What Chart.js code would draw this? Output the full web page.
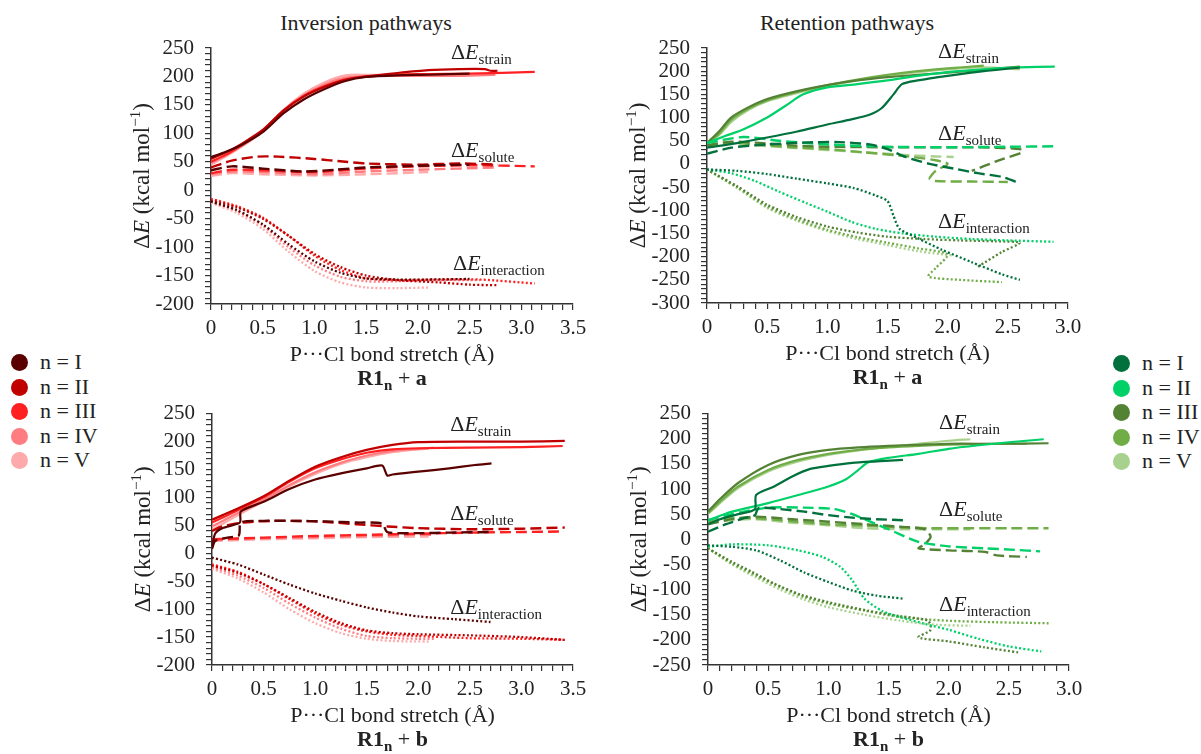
<!DOCTYPE html>
<html>
<head>
<meta charset="utf-8">
<script src="https://cdn.jsdelivr.net/npm/chart.js@4.4.0/dist/chart.umd.min.js"></script>
<style>
  body { margin: 0; background: #fff; width: 1201px; height: 754px; position: relative; overflow: hidden;
         font-family: 'Liberation Serif', 'Times New Roman', serif; color: #222; }
  canvas { position: absolute; }
  .ttl { position: absolute; font-size: 22px; transform: translateX(-50%); white-space: nowrap; line-height: 26px; }
  .leg { position: absolute; font-size: 22px; }
  .leg div { position: relative; height: 24.6px; line-height: 24.6px; padding-left: 29px; white-space: nowrap; }
  .leg span { position: absolute; left: 0; top: 4px; width: 17px; height: 17px; border-radius: 50%; }
</style>
</head>
<body>
<div class="ttl" style="left:366px;top:10px">Inversion pathways</div>
<div class="ttl" style="left:847px;top:10px">Retention pathways</div>
<canvas id="c1" width="470" height="390" style="left:130px;top:0px"></canvas>
<canvas id="c2" width="470" height="390" style="left:620px;top:0px"></canvas>
<canvas id="c3" width="470" height="364" style="left:130px;top:390px"></canvas>
<canvas id="c4" width="470" height="364" style="left:620px;top:390px"></canvas>
<div class="leg" id="legL" style="left:11px;top:350px"></div>
<div class="leg" id="legR" style="left:1113px;top:351px"></div>
<script>
// Легенда и цвета
var nLabels = ['n = I', 'n = II', 'n = III', 'n = IV', 'n = V'];
var redColors = ['#5a0000', '#c00000', '#ff2121', '#ff7c80', '#ffaaaa'];
var greenColors = ['#00703c', '#00d068', '#548235', '#70ad47', '#a9d18e'];

// ---- Inversion, R1n + a : [stretch, energy] ----
var invA_str_I   = [[0,58],[0.15,68],[0.3,80],[0.5,102],[0.7,135],[0.9,160],[1.1,178],[1.3,192],[1.5,199],[1.8,202],[2.1,203],[2.5,205]];
var invA_str_II  = [[0,55],[0.15,67],[0.3,82],[0.5,106],[0.7,140],[0.9,165],[1.1,182],[1.3,194],[1.5,200],[1.8,206],[2.1,211],[2.4,213],[2.65,213],[2.7,210],[2.77,210]];
var invA_str_III = [[0,50],[0.15,63],[0.3,80],[0.5,105],[0.7,140],[0.9,166],[1.1,183],[1.3,195],[1.6,201],[2.0,204],[2.5,205],[3.13,208]];
var invA_str_IV  = [[0,48],[0.15,62],[0.3,78],[0.5,104],[0.7,140],[0.9,167],[1.1,186],[1.3,198],[1.6,201],[2.0,201],[2.4,201],[2.75,203]];
var invA_str_V   = [[0,45],[0.15,60],[0.3,77],[0.5,103],[0.7,141],[0.9,170],[1.1,190],[1.3,202],[1.5,203],[1.8,203],[2.1,204]];
var invA_sol_I   = [[0,35],[0.2,42],[0.5,38],[0.9,33],[1.2,36],[1.5,40],[2.0,43],[2.5,45]];
var invA_sol_II  = [[0,40],[0.2,52],[0.45,59],[0.65,59],[1.0,55],[1.3,50],[1.5,47],[2.0,45],[2.4,47],[2.77,45]];
var invA_sol_III = [[0,30],[0.2,36],[0.5,35],[1.0,32],[1.5,38],[2.0,42],[2.5,44],[3.13,42]];
var invA_sol_IV  = [[0,28],[0.2,33],[0.5,32],[1.0,28],[1.5,33],[2.0,36],[2.75,40]];
var invA_sol_V   = [[0,25],[0.2,30],[0.5,28],[1.0,26],[1.5,28],[2.1,32]];
var invA_int_I   = [[0,-20],[0.25,-35],[0.5,-60],[0.75,-95],[1.0,-125],[1.25,-145],[1.5,-155],[1.8,-157],[2.1,-157],[2.5,-156]];
var invA_int_II  = [[0,-18],[0.25,-30],[0.5,-50],[0.75,-80],[1.0,-112],[1.25,-135],[1.5,-150],[1.8,-158],[2.2,-162],[2.5,-166],[2.77,-167]];
var invA_int_III = [[0,-15],[0.25,-28],[0.5,-48],[0.75,-80],[1.0,-115],[1.25,-140],[1.5,-155],[1.8,-158],[2.2,-157],[2.6,-157],[3.13,-164]];
var invA_int_IV  = [[0,-20],[0.25,-36],[0.5,-62],[0.75,-100],[1.0,-132],[1.25,-152],[1.5,-160],[1.8,-160],[2.2,-158],[2.6,-158]];
var invA_int_V   = [[0,-22],[0.25,-40],[0.5,-68],[0.75,-108],[1.0,-142],[1.25,-162],[1.5,-171],[1.8,-172],[2.1,-171]];

// ---- Retention, R1n + a ----
var retA_str_I   = [[0,35],[0.25,45],[0.5,57],[0.75,70],[1.0,85],[1.2,96],[1.35,106],[1.45,120],[1.55,150],[1.62,172],[1.75,180],[2.0,190],[2.3,200],[2.6,208]];
var retA_str_II  = [[0,45],[0.15,60],[0.3,74],[0.5,100],[0.65,125],[0.8,150],[1.0,165],[1.25,172],[1.5,180],[1.75,190],[2.0,198],[2.3,204],[2.6,208],[2.89,210]];
var retA_str_III = [[0,45],[0.1,70],[0.2,100],[0.35,123],[0.5,140],[0.75,157],[1.0,170],[1.25,180],[1.5,187],[1.75,192],[2.0,197],[2.3,203],[2.6,210]];
var retA_str_IV  = [[0,45],[0.1,65],[0.2,95],[0.35,120],[0.5,137],[0.75,155],[1.0,170],[1.25,182],[1.5,192],[1.75,200],[2.0,206],[2.3,212]];
var retA_str_V   = [[0,45],[0.1,62],[0.2,90],[0.35,117],[0.5,135],[0.75,153],[1.0,168],[1.25,180],[1.5,190],[1.75,198],[2.0,204],[2.3,208],[2.6,204]];
var retA_sol_I   = [[0,22],[0.2,35],[0.5,42],[0.8,46],[1.1,47],[1.35,42],[1.5,32],[1.65,15],[1.85,0],[2.05,-10],[2.25,-20],[2.45,-28],[2.6,-42]];
var retA_sol_II  = [[0,45],[0.3,58],[0.6,50],[1.0,42],[1.5,37],[2.0,36],[2.5,37],[2.9,38]];
var retA_sol_III = [[0,40],[0.2,48],[0.4,46],[0.7,40],[1.0,37],[1.5,36],[2.0,36],[2.4,35],[2.6,32],[2.62,25],[2.45,10],[2.3,-5],[2.2,-15]];
var retA_sol_IV  = [[0,40],[0.2,46],[0.4,42],[0.7,36],[1.0,32],[1.3,25],[1.6,18],[1.9,8],[2.0,0],[1.9,-15],[1.85,-32],[1.9,-37],[2.2,-38],[2.5,-39]];
var retA_sol_V   = [[0,38],[0.2,44],[0.4,40],[0.7,35],[1.0,30],[1.3,25],[1.6,20],[1.9,16],[2.05,15]];
var retA_int_I   = [[0,-12],[0.25,-15],[0.5,-22],[0.75,-32],[1.0,-42],[1.22,-52],[1.4,-68],[1.5,-80],[1.55,-112],[1.6,-140],[1.75,-160],[1.95,-185],[2.2,-212],[2.45,-238],[2.6,-250]];
var retA_int_II  = [[0,-12],[0.2,-20],[0.4,-37],[0.6,-60],[0.83,-85],[1.0,-103],[1.2,-125],[1.4,-140],[1.63,-150],[1.9,-157],[2.2,-162],[2.5,-165],[2.88,-168]];
var retA_int_III = [[0,-12],[0.25,-48],[0.5,-88],[0.75,-115],[1.0,-135],[1.25,-148],[1.5,-157],[1.8,-162],[2.1,-165],[2.4,-167],[2.6,-170],[2.45,-190],[2.25,-222]];
var retA_int_IV  = [[0,-12],[0.25,-50],[0.5,-92],[0.75,-120],[1.0,-142],[1.25,-158],[1.5,-170],[1.75,-182],[2.0,-195],[1.9,-225],[1.84,-243],[2.1,-250],[2.45,-255]];
var retA_int_V   = [[0,-12],[0.25,-52],[0.5,-95],[0.75,-123],[1.0,-145],[1.25,-162],[1.5,-175],[1.75,-188],[2.05,-198]];

// ---- Inversion, R1n + b ----
var invB_str_I   = [[0,10],[0.03,35],[0.1,45],[0.27,55],[0.28,75],[0.5,92],[0.75,115],[1.0,132],[1.25,143],[1.5,152],[1.65,157],[1.7,139],[1.75,141],[2.0,146],[2.3,152],[2.55,158],[2.71,161]];
var invB_str_II  = [[0,60],[0.25,80],[0.5,102],[0.75,130],[1.0,155],[1.25,172],[1.5,185],[1.75,194],[2.0,199],[2.5,200],[3.0,200],[3.42,201]];
var invB_str_III = [[0,55],[0.25,77],[0.5,100],[0.75,128],[1.0,152],[1.25,168],[1.5,180],[1.75,186],[2.0,188],[2.5,189],[3.0,190],[3.4,192]];
var invB_str_IV  = [[0,48],[0.25,72],[0.5,96],[0.75,122],[1.0,145],[1.25,162],[1.5,175],[1.75,183],[2.0,187],[2.15,189]];
var invB_str_V   = [[0,42],[0.25,68],[0.5,93],[0.75,120],[1.0,142],[1.25,160],[1.5,172],[1.75,181],[2.0,186],[2.1,187]];
var invB_sol_I   = [[0,8],[0.03,22],[0.15,28],[0.26,32],[0.28,55],[0.5,58],[0.8,58],[1.1,57],[1.4,55],[1.65,53],[1.7,38],[2.0,36],[2.3,37],[2.7,38]];
var invB_sol_II  = [[0,40],[0.1,48],[0.3,55],[0.6,58],[1.0,57],[1.4,52],[1.7,48],[2.0,45],[2.5,43],[3.0,44],[3.42,46]];
var invB_sol_III = [[0,25],[0.5,28],[1.0,31],[1.5,33],[2.0,35],[2.5,37],[3.0,38],[3.4,39]];
var invB_sol_IV  = [[0,24],[0.5,27],[1.0,29],[1.5,31],[2.0,33],[2.15,33]];
var invB_sol_V   = [[0,22],[0.5,25],[1.0,27],[1.5,29],[2.1,30]];
var invB_int_I   = [[0,-8],[0.25,-20],[0.5,-38],[0.75,-56],[1.0,-72],[1.25,-85],[1.5,-97],[1.75,-106],[2.0,-113],[2.35,-118],[2.7,-123]];
var invB_int_II  = [[0,-22],[0.25,-35],[0.5,-55],[0.75,-80],[1.0,-105],[1.25,-125],[1.5,-138],[1.75,-143],[2.0,-145],[2.5,-147],[3.0,-150],[3.42,-155]];
var invB_int_III = [[0,-20],[0.25,-33],[0.5,-55],[0.75,-82],[1.0,-108],[1.25,-128],[1.5,-140],[1.75,-146],[2.0,-148],[2.5,-152],[3.0,-153],[3.42,-155]];
var invB_int_IV  = [[0,-25],[0.25,-40],[0.5,-62],[0.75,-90],[1.0,-115],[1.25,-135],[1.5,-148],[1.75,-152],[2.0,-153],[2.15,-153]];
var invB_int_V   = [[0,-28],[0.25,-45],[0.5,-70],[0.75,-100],[1.0,-125],[1.25,-143],[1.5,-153],[1.75,-157],[2.1,-158]];

// ---- Retention, R1n + b ----
var retB_str_I   = [[0,30],[0.1,40],[0.25,50],[0.39,60],[0.4,88],[0.55,105],[0.7,125],[0.85,140],[1.0,146],[1.2,152],[1.4,155],[1.62,158]];
var retB_str_II  = [[0,38],[0.2,55],[0.5,72],[0.75,88],[1.0,105],[1.15,120],[1.25,138],[1.33,153],[1.5,162],[1.75,170],[2.0,180],[2.25,187],[2.5,193],[2.79,199]];
var retB_str_III = [[0,55],[0.1,80],[0.25,112],[0.5,148],[0.75,168],[1.0,178],[1.25,183],[1.5,186],[1.75,188],[2.0,190],[2.4,190],[2.83,191]];
var retB_str_IV  = [[0,52],[0.1,75],[0.25,105],[0.5,138],[0.75,158],[1.0,170],[1.25,178],[1.5,183],[1.75,186],[2.0,188],[2.4,190],[2.65,190]];
var retB_str_V   = [[0,50],[0.1,72],[0.25,102],[0.5,135],[0.75,155],[1.0,168],[1.25,177],[1.5,184],[1.75,190],[2.0,196],[2.18,199]];
var retB_sol_I   = [[0,15],[0.15,30],[0.3,42],[0.39,48],[0.42,62],[0.6,60],[0.8,55],[1.0,48],[1.2,43],[1.4,40],[1.62,38]];
var retB_sol_II  = [[0,38],[0.2,50],[0.5,63],[0.8,63],[1.05,60],[1.2,50],[1.35,35],[1.5,20],[1.75,-5],[2.0,-14],[2.3,-18],[2.55,-21],[2.76,-24]];
var retB_sol_III = [[0,30],[0.2,40],[0.4,45],[0.7,40],[1.0,35],[1.3,30],[1.6,25],[1.8,20],[1.85,5],[1.8,-10],[1.75,-18],[2.0,-22],[2.3,-25],[2.4,-32],[2.65,-35]];
var retB_sol_IV  = [[0,35],[0.2,42],[0.4,42],[0.7,36],[1.0,30],[1.3,27],[1.6,24],[1.85,22],[2.2,22],[2.5,22],[2.83,22]];
var retB_sol_V   = [[0,32],[0.2,38],[0.4,40],[0.7,33],[1.0,28],[1.3,22],[1.6,20],[1.9,20],[2.18,20]];
var retB_int_I   = [[0,-12],[0.2,-15],[0.4,-22],[0.6,-42],[0.8,-66],[1.0,-85],[1.2,-102],[1.4,-112],[1.62,-118]];
var retB_int_II  = [[0,-15],[0.2,-10],[0.5,-12],[0.75,-22],[0.95,-35],[1.1,-55],[1.2,-82],[1.3,-118],[1.45,-143],[1.6,-155],[1.8,-168],[2.0,-180],[2.25,-198],[2.5,-213],[2.77,-223]];
var retB_int_III = [[0,-18],[0.2,-45],[0.36,-64],[0.55,-88],[0.77,-110],[1.0,-125],[1.33,-142],[1.6,-153],[1.83,-162],[1.85,-180],[1.75,-195],[2.0,-203],[2.3,-215],[2.58,-225]];
var retB_int_IV  = [[0,-18],[0.2,-48],[0.4,-72],[0.6,-95],[0.8,-115],[1.0,-128],[1.3,-142],[1.6,-155],[2.0,-162],[2.4,-165],[2.83,-167]];
var retB_int_V   = [[0,-18],[0.2,-50],[0.4,-76],[0.6,-100],[0.8,-120],[1.0,-135],[1.3,-150],[1.6,-162],[1.9,-170],[2.18,-172]];

var SERIF = 'Liberation Serif, serif';
var INK = '#222';
Chart.defaults.font.family = SERIF;

// Рисует строку из кусков с разными шрифтами (подстрочные индексы и т.п.)
function drawRuns(ctx, runs, x, y, align) {
  var total = 0;
  runs.forEach(function(r) { ctx.font = r.f; r.w = ctx.measureText(r.t).width; total += r.w; });
  var cx = align === 'center' ? x - total / 2 : x;
  runs.forEach(function(r) { ctx.font = r.f; ctx.fillText(r.t, cx, y + (r.dy || 0)); cx += r.w; });
}

function deltaE(sub) {
  return [
    { t: 'Δ', f: '22px ' + SERIF },
    { t: 'E', f: 'italic 22px ' + SERIF },
    { t: sub, f: '15px ' + SERIF, dy: 5 }
  ];
}

// Подписи на графике: ΔE-метки, заголовки осей, подпись панели
var panelText = {
  id: 'panelText',
  afterDraw: function(chart, args, o) {
    var ctx = chart.ctx, a = chart.chartArea, sx = chart.scales.x, sy = chart.scales.y;
    ctx.save();
    ctx.fillStyle = INK;
    ctx.textAlign = 'left';
    ctx.textBaseline = 'alphabetic';
    o.labels.forEach(function(l) {
      drawRuns(ctx, deltaE(l.sub), sx.getPixelForValue(l.x), sy.getPixelForValue(l.y), 'left');
    });
    var cx = (a.left + a.right) / 2;
    drawRuns(ctx, [{ t: 'P···Cl bond stretch (Å)', f: '22px ' + SERIF }], cx, a.bottom + 57, 'center');
    drawRuns(ctx, [
      { t: 'R1', f: 'bold 22px ' + SERIF },
      { t: 'n', f: 'bold 15px ' + SERIF, dy: 5 },
      { t: ' + ', f: '22px ' + SERIF },
      { t: o.tag, f: 'bold 22px ' + SERIF }
    ], cx, a.bottom + 81, 'center');
    ctx.translate(a.left - 62, (a.top + a.bottom) / 2);
    ctx.rotate(-Math.PI / 2);
    drawRuns(ctx, [
      { t: 'Δ', f: '23px ' + SERIF },
      { t: 'E', f: 'italic 23px ' + SERIF },
      { t: ' (kcal mol', f: '23px ' + SERIF },
      { t: '−1', f: '15px ' + SERIF, dy: -9 },
      { t: ')', f: '23px ' + SERIF }
    ], 0, 0, 'center');
    ctx.restore();
  }
};

// Chart.js рисует набор с индексом 0 поверх остальных, поэтому n = I идёт первым
function makeDatasets(groups, colors) {
  var ds = [];
  groups.forEach(function(g, i) {
    var c = colors[i];
    ds.push({ data: g[0].map(function(p) { return { x: p[0], y: p[1] }; }), borderColor: c, borderWidth: 2.2 });
    ds.push({ data: g[1].map(function(p) { return { x: p[0], y: p[1] }; }), borderColor: c, borderWidth: 2.4, borderDash: [11, 5] });
    ds.push({ data: g[2].map(function(p) { return { x: p[0], y: p[1] }; }), borderColor: c, borderWidth: 2.3, borderDash: [2, 2.2] });
  });
  ds.forEach(function(d) { d.showLine = true; d.pointRadius = 0; d.tension = 0.25; d.fill = false; });
  return ds;
}

function makeChart(id, cfg) {
  var tickFont = { family: SERIF, size: 21, style: 'normal', weight: 'normal' };
  return new Chart(document.getElementById(id), {
    type: 'scatter',
    data: { datasets: makeDatasets(cfg.groups, cfg.colors) },
    options: {
      responsive: false,
      animation: false,
      devicePixelRatio: 1,
      layout: { padding: { top: cfg.padTop, right: cfg.padRight, left: 0, bottom: 0 } },
      plugins: {
        legend: { display: false },
        tooltip: { enabled: false },
        panelText: { labels: cfg.labels, tag: cfg.tag }
      },
      scales: {
        x: {
          type: 'linear', min: 0, max: cfg.xMax,
          ticks: {
            stepSize: 0.1, autoSkip: false, maxRotation: 0, minRotation: 0,
            font: tickFont, color: INK, padding: 6,
            callback: function(v) {
              var r = Math.round(v * 10);
              if (r % 5 !== 0) return '';
              return r === 0 ? '0' : (r / 10).toFixed(1);
            }
          },
          grid: { drawOnChartArea: false, drawTicks: true, tickLength: 6, color: '#333', lineWidth: 1.2 },
          border: { color: '#333', width: 1.5 },
          afterFit: function(s) { s.height = cfg.xH; }
        },
        y: {
          type: 'linear', min: cfg.yMin, max: cfg.yMax,
          ticks: {
            stepSize: 10, autoSkip: false, font: tickFont, color: INK, padding: 11,
            callback: function(v) { return v % 50 === 0 ? String(v) : ''; }
          },
          grid: { drawOnChartArea: false, drawTicks: true, tickLength: 6, color: '#333', lineWidth: 1.2 },
          border: { color: '#333', width: 1.5 },
          afterFit: function(s) { s.width = cfg.yW; }
        }
      }
    },
    plugins: [panelText]
  });
}

makeChart('c1', {
  groups: [
    [invA_str_I, invA_sol_I, invA_int_I], [invA_str_II, invA_sol_II, invA_int_II], [invA_str_III, invA_sol_III, invA_int_III],
    [invA_str_IV, invA_sol_IV, invA_int_IV], [invA_str_V, invA_sol_V, invA_int_V]
  ],
  colors: redColors, xMax: 3.5, yMin: -200, yMax: 250,
  padTop: 48, padRight: 27, yW: 81, xH: 86, tag: 'a',
  labels: [{ x: 2.32, y: 230, sub: 'strain' }, { x: 2.32, y: 58, sub: 'solute' }, { x: 2.34, y: -140, sub: 'interaction' }]
});

makeChart('c2', {
  groups: [
    [retA_str_I, retA_sol_I, retA_int_I], [retA_str_II, retA_sol_II, retA_int_II], [retA_str_III, retA_sol_III, retA_int_III],
    [retA_str_IV, retA_sol_IV, retA_int_IV], [retA_str_V, retA_sol_V, retA_int_V]
  ],
  colors: greenColors, xMax: 3.0, yMin: -300, yMax: 250,
  padTop: 48, padRight: 22, yW: 87, xH: 87, tag: 'a',
  labels: [{ x: 1.92, y: 228, sub: 'strain' }, { x: 1.92, y: 51, sub: 'solute' }, { x: 1.92, y: -138, sub: 'interaction' }]
});

makeChart('c3', {
  groups: [
    [invB_str_I, invB_sol_I, invB_int_I], [invB_str_II, invB_sol_II, invB_int_II], [invB_str_III, invB_sol_III, invB_int_III],
    [invB_str_IV, invB_sol_IV, invB_int_IV], [invB_str_V, invB_sol_V, invB_int_V]
  ],
  colors: redColors, xMax: 3.5, yMin: -200, yMax: 250,
  padTop: 19, padRight: 27, yW: 82, xH: 89, tag: 'b',
  labels: [{ x: 2.31, y: 218, sub: 'strain' }, { x: 2.31, y: 60, sub: 'solute' }, { x: 2.31, y: -108, sub: 'interaction' }]
});

makeChart('c4', {
  groups: [
    [retB_str_I, retB_sol_I, retB_int_I], [retB_str_II, retB_sol_II, retB_int_II], [retB_str_III, retB_sol_III, retB_int_III],
    [retB_str_IV, retB_sol_IV, retB_int_IV], [retB_str_V, retB_sol_V, retB_int_V]
  ],
  colors: greenColors, xMax: 3.0, yMin: -250, yMax: 250,
  padTop: 19, padRight: 21, yW: 88, xH: 89, tag: 'b',
  labels: [{ x: 1.92, y: 219, sub: 'strain' }, { x: 1.92, y: 47, sub: 'solute' }, { x: 1.92, y: -143, sub: 'interaction' }]
});

// HTML-легенды слева и справа
function fillLegend(id, colors) {
  var el = document.getElementById(id);
  nLabels.forEach(function(t, i) {
    var row = document.createElement('div');
    var dot = document.createElement('span');
    dot.style.background = colors[i];
    row.appendChild(dot);
    row.appendChild(document.createTextNode(t));
    el.appendChild(row);
  });
}
fillLegend('legL', redColors);
fillLegend('legR', greenColors);
</script>
</body>
</html>
